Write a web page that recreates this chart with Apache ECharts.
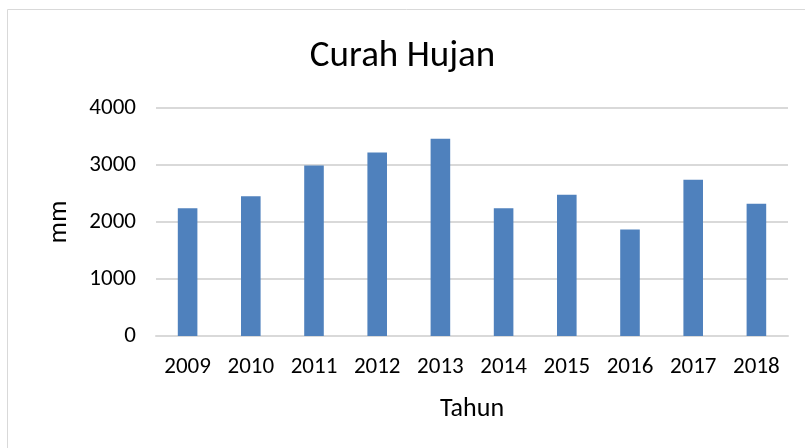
<!DOCTYPE html>
<html>
<head>
<meta charset="utf-8">
<script src="https://cdn.jsdelivr.net/npm/echarts@6/dist/echarts.min.js"></script>
<style>
  html, body { margin: 0; padding: 0; background: #fff; }
  #main { width: 805px; height: 448px; }
</style>
</head>
<body>
<div id="main"></div>
<script>
// data
const years = ['2009', '2010', '2011', '2012', '2013', '2014', '2015', '2016', '2017', '2018'];
const rainfall = [2240, 2450, 2990, 3220, 3460, 2240, 2480, 1870, 2740, 2320];
const yTicks = [0, 1000, 2000, 3000, 4000];

const font = 'Carlito, Lato, sans-serif';

const chart = echarts.init(document.getElementById('main'));
const option = {
    animation: false,
    title: {
        text: 'Curah Hujan',
        left: 'center',
        top: 33,
        textStyle: { fontFamily: font, fontSize: 37, fontWeight: 'normal', color: '#000' }
    },
    graphic: [{
        type: 'rect',
        shape: { x: 7.5, y: 9.5, width: 820, height: 460 },
        style: { fill: 'none', stroke: '#d9d9d9', lineWidth: 1 },
        silent: true
    }],
    grid: { left: 156, right: 17, top: 108, bottom: 112 },
    xAxis: {
        type: 'category',
        data: years,
        name: 'Tahun',
        nameLocation: 'middle',
        nameGap: 60,
        nameTextStyle: { fontFamily: font, fontSize: 26, color: '#000' },
        axisLine: { lineStyle: { color: '#d9d9d9', width: 2 } },
        axisTick: { show: false },
        axisLabel: { fontFamily: font, fontSize: 23, color: '#000', margin: 20, interval: 0 }
    },
    yAxis: {
        type: 'value',
        min: yTicks[0],
        max: yTicks[yTicks.length - 1],
        interval: 1000,
        name: 'mm',
        nameLocation: 'middle',
        nameGap: 83,
        nameTextStyle: { fontFamily: font, fontSize: 27, color: '#000' },
        axisLine: { show: false },
        axisTick: { show: false },
        axisLabel: { fontFamily: font, fontSize: 23, color: '#000', margin: 20, formatter: v => String(v) },
        splitLine: { lineStyle: { color: '#d9d9d9', width: 2 } }
    },
    series: [{
        type: 'bar',
        data: rainfall,
        barWidth: '31%',
        itemStyle: { color: '#4f81bd' }
    }]
};
chart.setOption(option);
</script>
</body>
</html>
